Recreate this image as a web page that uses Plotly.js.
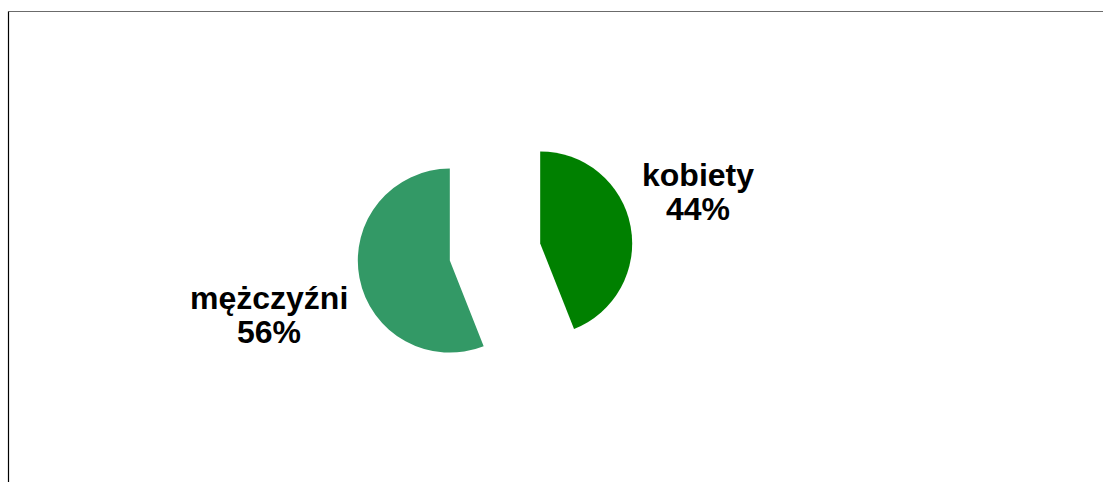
<!DOCTYPE html>
<html>
<head>
<meta charset="utf-8">
<script src="https://cdn.plot.ly/plotly-3.0.1.min.js"></script>
<style>html,body{margin:0;padding:0;background:#fff;}#chart{width:1103px;height:482px;}</style>
</head>
<body>
<div id="chart"></div>
<script>
var categories = ["kobiety", "mężczyźni"];
var shares = [44, 56];
var sliceColors = ["#008000", "#339966"];

var W = 1103, H = 482;
function px(x) { return x / W; }
function py(y) { return 1 - y / H; }

// label anchor positions (pixels) for the name line and the percent line
var labelPos = [
  {x: 698, yName: 175, yPct: 209},
  {x: 269, yName: 298, yPct: 332}
];
var font = {family: "Liberation Sans, Arial, sans-serif", size: 32, color: "#000"};
var annotations = [];
categories.forEach(function (c, i) {
  annotations.push({xref: "paper", yref: "paper", x: px(labelPos[i].x), y: py(labelPos[i].yName),
    xanchor: "center", yanchor: "middle", showarrow: false, text: "<b>" + c + "</b>", font: font});
  annotations.push({xref: "paper", yref: "paper", x: px(labelPos[i].x), y: py(labelPos[i].yPct),
    xanchor: "center", yanchor: "middle", showarrow: false, text: "<b>" + shares[i] + "%</b>", font: font});
});

var data = [{
  type: "pie",
  labels: categories,
  values: shares,
  sort: false,
  direction: "clockwise",
  rotation: 0,
  pull: [0.5, 0.5],
  marker: {colors: sliceColors, line: {width: 0}},
  textinfo: "none",
  hoverinfo: "label+percent",
  showlegend: false,
  domain: {x: [px(357), px(633)], y: [py(390), py(114)]}
}];

var layout = {
  width: W, height: H,
  margin: {l: 0, r: 0, t: 0, b: 0},
  paper_bgcolor: "#fff",
  showlegend: false,
  annotations: annotations,
  shapes: [
    {type: "line", xref: "paper", yref: "paper", x0: px(8.5), x1: 1, y0: py(11.5), y1: py(11.5), line: {color: "#6b6b6b", width: 1}},
    {type: "line", xref: "paper", yref: "paper", x0: px(8.5), x1: px(8.5), y0: py(11.5), y1: 0, line: {color: "#000", width: 1.2}}
  ]
};

Plotly.newPlot("chart", data, layout, {displayModeBar: false, staticPlot: true});
</script>
</body>
</html>
